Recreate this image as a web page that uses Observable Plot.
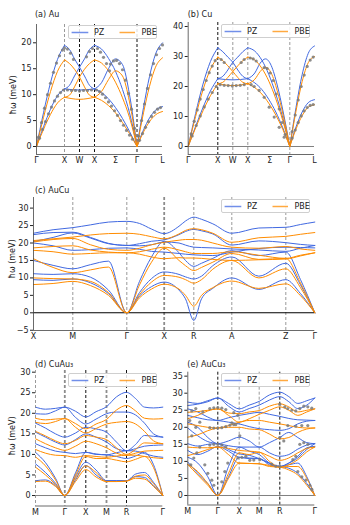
<!DOCTYPE html>
<html><head><meta charset="utf-8">
<script src="https://cdn.jsdelivr.net/npm/d3@7"></script>
<script src="https://cdn.jsdelivr.net/npm/@observablehq/plot@0.6"></script>
<style>
body{margin:0;background:#fff;font-family:"DejaVu Sans",sans-serif;}
#fig{position:relative;width:350px;height:525px;overflow:hidden;background:#fff;}
.ttl{position:absolute;font-size:8px;line-height:10px;color:#222;white-space:nowrap;}
.ylab{position:absolute;font-size:8px;line-height:10px;color:#222;white-space:nowrap;transform:translate(-50%,-50%) rotate(-90deg);}
.lg{position:absolute;box-sizing:border-box;border:0.8px solid #cfcfcf;border-radius:2px;background:rgba(255,255,255,0.85);width:89px;height:13.5px;}
</style></head><body><div id="fig"></div>
<script>
const PZ_COLOR = "#4169e1", PBE_COLOR = "#ff8c00";
const FONT = "DejaVu Sans, sans-serif";

// ---------- (a) Au ----------
const auTicks = [0, 28, 43, 58, 79, 100.5, 126];
const auLabels = ["Γ", "X", "W", "X", "Σ", "Γ", "L"];
const auPZ = [
  [[0,0],[7,6.5],[14,12.3],[21,16.8],[28,19.5]],
  [[0,0],[7,3.8],[14,7.2],[21,9.8],[28,11.1]],
  [[28,19.5],[33,18.7],[38,16.9],[43,15.3],[48,13.6],[53,11.8],[58,11.1]],
  [[28,11.1],[33,11.8],[38,13.6],[43,15.3],[48,16.9],[53,18.7],[58,19.5]],
  [[28,11.1],[43,10.9],[58,11.1]],
  [[58,19.5],[65,18.8],[72,17.0],[79,14.5],[86,11.0],[93,6.5],[100.5,0]],
  [[58,11.1],[65,12.3],[72,15.0],[79,16.9],[86,15.8],[93,10.0],[100.5,0]],
  [[58,11.1],[65,10.4],[72,9.2],[79,7.5],[86,5.4],[93,2.9],[100.5,0]],
  [[100.5,0],[107,7.5],[113,13.5],[119,17.8],[126,20.0]],
  [[100.5,0],[107,3.2],[113,5.5],[119,7.0],[126,7.7]]
];
const auPBE = [
  [[0,0],[7,5.6],[14,10.6],[21,14.5],[28,16.7]],
  [[0,0],[7,3.3],[14,6.2],[21,8.4],[28,9.5]],
  [[28,16.7],[33,16.0],[38,14.9],[43,13.4],[48,11.5],[53,9.9],[58,9.5]],
  [[28,9.5],[33,9.9],[38,11.5],[43,13.4],[48,14.9],[53,16.0],[58,16.7]],
  [[28,9.5],[43,9.1],[58,9.5]],
  [[58,16.7],[65,16.1],[72,14.6],[79,12.4],[86,9.4],[93,5.6],[100.5,0]],
  [[58,9.5],[65,10.6],[72,12.9],[79,14.6],[86,13.6],[93,8.6],[100.5,0]],
  [[58,9.5],[65,8.9],[72,7.9],[79,6.5],[86,4.6],[93,2.5],[100.5,0]],
  [[100.5,0],[107,6.5],[113,11.6],[119,15.3],[126,17.1]],
  [[100.5,0],[107,2.8],[113,4.8],[119,6.1],[126,6.75]]
];
const auExp = [
  [2,1.8],[5,4.6],[8,7.4],[11,10.0],[14,12.2],[17,14.3],[20,16.1],[23,17.5],[26,18.6],[28,19.0],
  [3,1.6],[6,3.3],[9,4.8],[12,6.3],[15,7.6],[18,8.8],[21,9.7],[24,10.4],[27,10.9],
  [31,10.9],[35,10.8],[39,10.8],[43,10.7],[47,10.8],[51,10.8],[55,10.9],
  [31,18.8],[34,18.0],[37,16.8],[50,17.3],[53,18.3],[56,18.9],
  [61,18.9],[64,18.2],[67,17.2],[70,16.0],[73,14.6],
  [74,15.9],[77,16.5],[80,16.6],[83,16.0],[86,14.8],[89,12.8],[92,10.2],[95,7.2],[98,3.5],
  [60,10.9],[63,10.6],[66,10.1],[69,9.4],[72,8.6],[75,7.8],[78,6.9],[81,6.0],[84,5.0],[87,4.1],[90,3.1],[93,2.2],[96,1.4],
  [102,2.0],[105,5.0],[108,8.2],[111,11.2],[114,13.8],[117,16.0],[120,17.7],[123,18.9],[126,19.6],
  [103,1.2],[106,2.5],[109,3.7],[112,4.8],[115,5.8],[118,6.6],[121,7.2],[124,7.5]
];

// ---------- (b) Cu ----------
const cuTicks = [0, 29.6, 44.6, 59.6, 81.6, 101.6, 126.3];
const cuLabels = ["Γ", "X", "W", "X", "Σ", "Γ", "L"];
const cuPZ = [
  [[0,0],[7.4,11.0],[14.8,20.8],[22.2,28.3],[29.6,32.9]],
  [[0,0],[7.4,6.7],[14.8,13.0],[22.2,18.5],[29.6,22.6]],
  [[29.6,32.9],[34.6,31.6],[39.6,29.8],[44.6,28.1],[49.6,25.5],[54.6,23.4],[59.6,22.6]],
  [[29.6,22.6],[34.6,23.4],[39.6,25.5],[44.6,28.1],[49.6,29.8],[54.6,31.6],[59.6,32.9]],
  [[29.6,22.6],[44.6,22.2],[59.6,22.6]],
  [[59.6,32.9],[66.6,31.8],[73.6,28.8],[80.6,24.0],[87.6,17.5],[94.6,9.5],[101.6,0]],
  [[59.6,22.6],[66.6,24.5],[72,27.8],[77.3,29.2],[83,27.0],[89,20.5],[95,11.5],[101.6,0]],
  [[59.6,22.6],[66.6,21.2],[73.6,19.0],[80.6,15.7],[87.6,11.5],[94.6,6.2],[101.6,0]],
  [[101.6,0],[107.8,13.0],[114,24.0],[120,31.0],[126.3,33.5]],
  [[101.6,0],[107.8,6.5],[114,11.5],[120,14.6],[126.3,15.6]]
];
const cuPBE = [
  [[0,0],[7.4,10.0],[14.8,18.9],[22.2,25.7],[29.6,29.8]],
  [[0,0],[7.4,6.2],[14.8,11.9],[22.2,16.9],[29.6,20.9]],
  [[29.6,29.8],[34.6,28.6],[39.6,26.9],[44.6,25.0],[49.6,23.0],[54.6,21.4],[59.6,20.9]],
  [[29.6,20.9],[34.6,21.4],[39.6,23.0],[44.6,25.0],[49.6,26.9],[54.6,28.6],[59.6,29.8]],
  [[29.6,20.9],[44.6,20.3],[59.6,20.9]],
  [[59.6,29.8],[66.6,28.8],[73.6,26.1],[80.6,21.8],[87.6,15.9],[94.6,8.6],[101.6,0]],
  [[59.6,20.9],[66.6,22.4],[72,25.0],[77.3,26.4],[83,24.5],[89,18.6],[95,10.4],[101.6,0]],
  [[59.6,20.9],[66.6,19.6],[73.6,17.5],[80.6,14.4],[87.6,10.5],[94.6,5.7],[101.6,0]],
  [[101.6,0],[107.8,11.8],[114,21.7],[120,27.9],[126.3,30.0]],
  [[101.6,0],[107.8,5.8],[114,10.3],[120,13.1],[126.3,13.9]]
];
const cuExp = [
  [3,4.2],[6,8.4],[9,12.2],[12,15.8],[15,19.0],[18,22.0],[21,24.6],[24,26.8],[27,28.6],
  [4,3.5],[8,7.0],[12,10.2],[16,13.2],[20,15.8],[24,18.0],[28,20.0],
  [32,20.6],[36,20.4],[40,20.3],[44,20.2],[48,20.3],[52,20.4],[56,20.6],
  [33,29.0],[36,28.0],[53,28.0],[56,29.0],
  [62,29.5],[65,29.2],[68,28.5],[76,26.3],[79,26.0],[82,24.5],[85,22.0],[88,17.5],[91,12.5],[94,8.0],[97,4.0],
  [63,20.6],[66,20.0],[71,18.7],[76,16.4],[81,13.1],[86,9.8],[91,6.4],[96,3.1],
  [104,5.0],[107,10.5],[110,15.5],[113,20.0],[116,23.8],[119,26.7],[122,28.8],[125,29.8],
  [104,2.8],[107,5.5],[110,8.0],[113,10.2],[116,11.9],[119,13.0],[122,13.7],[125,14.0]
];

// ---------- (c) AuCu ----------
const acTicks = [0, 39.3, 93.3, 130.7, 160.3, 198.3, 252.3, 281.3];
const acLabels = ["X", "M", "Γ", "X", "R", "A", "Z", "Γ"];
const acKnots = [0, 19.6, 39.3, 57, 75, 93.3, 106, 118, 130.7, 145.5, 152, 160.3, 168, 179.3, 198.3, 225.3, 252.3, 267, 281.3];
const acPZ = [
  [22.8, 23.8, 24.4, 25.2, 26.0, 26.2, 25.6, 24.0, 22.7, 24.8, 26.3, 27.4, 26.8, 25.5, 22.8, 24.3, 24.5, 25.3, 26.0],
  [22.4, 23.0, 23.1, 21.6, 19.9, 19.3, 19.8, 20.5, 20.9, 22.4, 23.3, 23.9, 23.5, 22.6, 19.4, 20.6, 20.1, 19.6, 19.3],
  [20.4, 21.6, 22.9, 21.4, 19.8, 19.3, 19.2, 19.5, 20.3, 20.0, 19.4, 18.8, 18.7, 18.6, 18.3, 18.0, 17.6, 18.5, 19.3],
  [20.0, 19.2, 17.9, 18.1, 18.5, 18.6, 18.2, 17.6, 17.4, 17.0, 16.8, 16.6, 16.5, 16.4, 17.4, 18.4, 18.8, 18.7, 18.6],
  [15.0, 13.6, 12.6, 13.8, 14.8, 0, 9.0, 16.0, 20.5, 17.2, 15.0, 13.3, 14.2, 15.6, 17.8, 16.4, 17.4, 9.5, 0],
  [11.2, 11.0, 11.2, 10.2, 6.5, 0, 5.8, 9.8, 11.7, 11.0, 10.3, 9.7, 10.5, 13.5, 16.0, 10.5, 14.2, 8.0, 0],
  [9.5, 9.3, 9.7, 8.6, 5.5, 0, 4.8, 7.5, 8.8, 6.5, 4.0, -2.2, 4.0, 7.0, 10.0, 6.7, 9.5, 5.5, 0]
];
const acPBE = [
  [20.7, 21.2, 21.7, 22.3, 22.7, 22.8, 22.5, 21.8, 21.2, 22.6, 23.6, 24.1, 23.8, 22.8, 20.2, 21.5, 21.9, 22.5, 23.0],
  [20.3, 21.0, 21.3, 19.5, 18.2, 17.9, 18.5, 19.5, 20.2, 20.8, 21.0, 21.0, 20.8, 20.0, 18.8, 18.5, 19.0, 18.3, 17.9],
  [18.6, 19.0, 19.2, 18.0, 17.4, 17.2, 17.5, 18.2, 18.8, 18.0, 17.5, 17.0, 17.0, 17.0, 17.5, 16.5, 15.6, 16.5, 17.2],
  [17.9, 17.5, 16.8, 17.0, 17.2, 17.2, 16.8, 16.0, 15.5, 15.8, 15.7, 15.7, 15.6, 15.3, 15.0, 15.2, 15.4, 16.3, 17.2],
  [15.5, 13.0, 11.5, 12.3, 13.1, 0, 8.0, 14.5, 18.5, 15.0, 13.5, 12.1, 13.0, 14.5, 17.0, 15.3, 15.6, 8.5, 0],
  [10.0, 9.8, 9.7, 9.0, 5.8, 0, 5.2, 8.8, 10.7, 10.2, 9.5, 8.5, 9.5, 12.5, 15.0, 10.0, 12.6, 7.2, 0],
  [8.1, 8.4, 9.0, 7.8, 5.0, 0, 4.3, 6.8, 8.2, 6.8, 5.0, 1.9, 5.0, 7.2, 9.1, 7.0, 8.3, 4.9, 0]
];

// ---------- (d) CuAu3 ----------
const d3Ticks = [0, 29.3, 50.3, 71, 91, 127.3];
const d3Labels = ["M", "Γ", "X", "M", "R", "Γ"];
const d3Knots = [0, 10, 20, 29.3, 40, 50.3, 60.6, 71, 81, 91, 100, 109, 118, 127.3];
const d3PZ = [
  [21.5, 21.0, 21.2, 21.5, 20.5, 19.1, 20.4, 21.6, 24.0, 25.1, 23.6, 21.5, 21.3, 21.5],
  [19.9, 19.8, 20.6, 21.5, 19.0, 17.4, 18.6, 19.9, 20.3, 20.3, 19.6, 17.6, 15.0, 14.2],
  [17.6, 16.4, 15.0, 14.2, 15.2, 16.6, 16.2, 15.4, 13.0, 10.9, 12.4, 14.6, 14.4, 14.2],
  [15.4, 14.2, 13.0, 12.3, 13.6, 15.0, 14.2, 13.0, 11.4, 10.9, 11.4, 12.0, 12.2, 12.3],
  [12.6, 11.6, 10.8, 10.5, 10.2, 10.5, 10.1, 9.9, 10.4, 10.9, 10.8, 10.2, 9.6, 9.3],
  [10.5, 8.0, 4.2, 0, 4.6, 8.1, 6.2, 3.6, 3.6, 3.6, 5.2, 5.6, 3.2, 0],
  [7.7, 5.6, 3.0, 0, 3.8, 7.3, 5.0, 3.6, 3.6, 3.6, 4.6, 4.4, 2.4, 0],
  [3.6, 3.8, 2.4, 0, 5.5, 10.5, 10.0, 9.9, 9.5, 9.0, 9.6, 10.5, 7.5, 0]
];
const d3PBE = [
  [18.8, 18.4, 18.6, 18.7, 17.5, 16.2, 17.4, 18.5, 20.8, 21.9, 20.6, 18.8, 18.6, 18.7],
  [17.8, 17.5, 18.0, 18.7, 16.6, 15.2, 16.3, 17.4, 17.8, 18.0, 17.4, 15.6, 13.3, 12.6],
  [15.6, 14.5, 13.3, 12.6, 13.4, 14.6, 14.2, 13.6, 11.6, 10.0, 11.2, 12.8, 12.7, 12.6],
  [13.8, 12.6, 11.6, 11.0, 12.0, 13.2, 12.6, 11.6, 10.3, 9.8, 10.3, 10.8, 10.9, 11.0],
  [11.2, 10.3, 9.8, 9.7, 9.3, 9.7, 9.5, 9.3, 9.6, 9.8, 9.8, 9.5, 9.2, 9.0],
  [9.4, 7.2, 3.8, 0, 4.2, 7.2, 5.6, 3.4, 3.4, 3.5, 4.7, 5.0, 2.9, 0],
  [6.9, 5.0, 2.7, 0, 3.4, 6.3, 4.5, 3.4, 3.4, 3.5, 4.2, 4.0, 2.2, 0],
  [3.4, 3.5, 2.2, 0, 5.0, 9.5, 9.0, 9.0, 8.6, 8.2, 8.8, 9.5, 6.8, 0]
];

// ---------- (e) AuCu3 ----------
const e3Ticks = [0, 30, 51.4, 71.4, 92, 127];
const e3Labels = ["M", "Γ", "X", "M", "R", "Γ"];
const e3Knots = [0, 10, 20, 30, 40.7, 51.4, 61.4, 71.4, 81.7, 92, 101, 110, 119, 127];
const e3PZ = [
  [27.4, 27.0, 27.8, 28.6, 27.0, 25.4, 26.5, 27.6, 29.5, 30.3, 29.0, 27.0, 27.8, 28.6],
  [26.4, 26.8, 27.5, 28.6, 26.2, 24.5, 25.5, 26.5, 28.0, 29.0, 27.5, 25.5, 26.5, 28.6],
  [25.4, 24.5, 23.0, 22.0, 22.8, 23.5, 24.0, 24.4, 23.8, 23.2, 22.6, 22.2, 22.1, 22.0],
  [23.5, 22.8, 22.2, 22.0, 21.5, 21.0, 20.2, 19.6, 19.3, 19.1, 19.6, 21.0, 21.8, 22.0],
  [21.5, 20.0, 17.0, 15.2, 16.0, 17.1, 16.0, 14.2, 15.5, 17.0, 18.5, 17.0, 15.5, 15.2],
  [19.8, 17.5, 15.8, 15.2, 14.6, 14.2, 14.2, 14.2, 12.5, 11.5, 12.0, 13.6, 14.8, 15.2],
  [15.2, 14.5, 15.0, 15.2, 13.5, 12.2, 11.8, 10.8, 9.5, 8.5, 9.5, 11.0, 13.5, 15.2],
  [13.2, 12.0, 13.0, 14.4, 13.0, 11.2, 11.0, 10.8, 9.4, 8.5, 9.5, 11.5, 14.0, 14.4],
  [11.2, 9.5, 5.5, 0, 8.5, 14.2, 13.0, 12.0, 9.5, 8.5, 9.0, 9.5, 5.5, 0],
  [9.8, 6.5, 3.5, 0, 5.5, 11.2, 10.8, 10.8, 9.0, 8.5, 8.0, 6.5, 3.5, 0]
];
const e3PBE = [
  [24.4, 24.6, 25.0, 25.4, 24.2, 24.0, 24.5, 24.9, 26.2, 26.9, 26.0, 24.5, 25.0, 25.4],
  [22.5, 23.5, 24.8, 25.4, 23.5, 21.5, 22.5, 23.8, 25.0, 26.0, 25.0, 23.5, 24.5, 25.4],
  [21.0, 20.5, 20.0, 19.8, 20.5, 21.5, 22.0, 22.0, 21.5, 21.0, 20.5, 20.0, 19.8, 19.8],
  [17.1, 17.8, 19.0, 19.8, 20.0, 20.0, 19.5, 19.3, 18.0, 16.6, 17.0, 18.5, 19.5, 19.8],
  [14.2, 14.0, 14.0, 14.2, 13.8, 13.2, 13.0, 12.7, 11.5, 10.3, 11.0, 12.5, 13.8, 14.2],
  [11.7, 12.5, 13.5, 14.2, 12.0, 9.5, 9.4, 9.3, 8.8, 8.3, 9.0, 10.5, 12.8, 14.2],
  [9.1, 7.0, 3.5, 0, 6.5, 12.5, 12.0, 12.7, 10.0, 8.3, 8.5, 8.5, 5.0, 0],
  [9.1, 6.0, 3.0, 0, 5.0, 9.5, 9.4, 9.3, 8.5, 8.3, 7.5, 6.0, 3.0, 0]
];
const e3Exp = [
  [22,25.5],[26,25.7],[30,25.8],[34,25.6],[38,25.2],
  [22,19.9],[26,19.8],[30,19.8],[34,19.9],[38,20.2],[42,20.6],[46,20.8],
  [22,14.8],[26,15.0],[30,15.0],[34,14.8],[38,14.3],
  [24,4.5],[26,3.0],[34,4.0],[37,7.0],[40,9.5],[20,6.5],[17,9.0],
  [2,22.0],[4,24.8],[8,25.5],[3,9.0],[6,11.0],[9,12.5],[12,14.2],[4,17.5],[8,20.0],[12,21.5],[15,24.5],
  [44,21.3],[48,20.8],[52,17.5],[50,11.0],[54,11.2],[58,11.5],[46,24.3],[50,23.5],
  [62,10.3],[66,10.4],[72,10.5],[84,9.2],[88,8.6],[92,8.6],[92,17.0],[96,16.0],[92,26.7],[97,26.0],
  [100,25.5],[104,25.0],[108,24.8],[112,25.5],[116,26.2],[120,26.0],[124,25.6],
  [100,20.5],[108,20.3],[114,20.5],[120,20.5],
  [105,10.5],[108,11.5],[112,15.0],[116,15.5],[120,15.0],
  [110,7.0],[114,5.5],[118,4.5],[122,3.0],[124,1.8]
];

// ---------- helpers ----------
const fromPairs = (bands, s) => bands.flatMap((b, i) => b.map(([x, y]) => ({x, y, band: s + i})));
const fromGrid = (knots, bands, s) => bands.flatMap((b, i) => b.map((y, j) => ({x: knots[j], y, band: s + i})));
const fig = document.getElementById("fig");

function addDiv(cls, html, left, top) {
  const d = document.createElement("div");
  d.className = cls; d.innerHTML = html;
  d.style.left = left + "px"; d.style.top = top + "px";
  fig.appendChild(d); return d;
}
function legend(left, top) {
  const html = `<svg width="89" height="13" style="position:absolute;left:0;top:0;font-family:${FONT};font-size:8px">
    <line x1="2.6" x2="19.3" y1="6.5" y2="6.5" stroke="${PZ_COLOR}" stroke-opacity="0.75" stroke-width="1.5"/>
    <text x="25" y="9.4" fill="#222">PZ</text>
    <line x1="50.5" x2="66" y1="6.5" y2="6.5" stroke="${PBE_COLOR}" stroke-opacity="0.75" stroke-width="1.5"/>
    <text x="72.5" y="9.4" fill="#222">PBE</text></svg>`;
  addDiv("lg", html, left, top);
}

function panel(c) {
  const lab = new Map(c.ticks.map((t, i) => [t, c.labels[i]]));
  const marks = [
    Plot.ruleX(c.vGray || [], {stroke: "#808080", strokeWidth: 0.8, strokeDasharray: "3,2"}),
    Plot.ruleX(c.vThick || [], {stroke: "#8c8c8c", strokeWidth: 1.8, strokeDasharray: "3,2"}),
    Plot.ruleX(c.vBlack || [], {stroke: "#111", strokeWidth: 1, strokeDasharray: "3,2"}),
    Plot.ruleY([0], {stroke: c.zeroColor || "#808080", strokeWidth: c.zeroWidth || 1}),
    Plot.line(c.pz, {x: "x", y: "y", z: "band", stroke: PZ_COLOR, strokeWidth: 1, curve: "monotone-x"}),
    Plot.line(c.pbe, {x: "x", y: "y", z: "band", stroke: PBE_COLOR, strokeWidth: 1, curve: "monotone-x"}),
    Plot.dot(c.exp || [], {x: d => d[0], y: d => d[1], r: 1.6, fill: "#7a7a7a", fillOpacity: 0.85}),
    Plot.ruleY([c.yMin], {stroke: "#444", strokeWidth: 0.8}),
    c.leftDashed
      ? Plot.ruleX([0], {stroke: "#808080", strokeWidth: 0.8, strokeDasharray: "3,2"})
      : Plot.ruleX([0], {stroke: "#444", strokeWidth: 0.8}),
    Plot.axisY(c.yTicks, {label: null, tickSize: 3, tickPadding: 2, fontSize: 8, tickFormat: d => d < 0 ? "\u2212" + (-d) : String(d)}),
    Plot.axisX(c.ticks, {label: null, tickSize: 0, tickPadding: 3, fontSize: 8, tickFormat: d => lab.get(d)})
  ];
  const svg = Plot.plot({
    width: c.width, height: c.height,
    marginLeft: c.mL, marginRight: c.mR, marginTop: c.mT, marginBottom: c.mB,
    x: {domain: [0, c.xMax], axis: null, label: null},
    y: {domain: [c.yMin, c.yMax], axis: null, label: null},
    style: {fontFamily: FONT, fontSize: "8px", background: "transparent", overflow: "visible", color: "#222"},
    marks
  });
  svg.style.position = "absolute";
  svg.style.left = c.left + "px";
  svg.style.top = c.top + "px";
  fig.appendChild(svg);
}

// (a)
panel({left: 0, top: 0, width: 175, height: 170, mL: 36, mR: 13, mT: 24, mB: 16,
  xMax: 126, yMin: -1.54, yMax: 23.53, yTicks: [0, 5, 10, 15, 20],
  ticks: auTicks, labels: auLabels, vGray: [28], vBlack: [43, 58, 100.5],
  pz: fromPairs(auPZ, "pz"), pbe: fromPairs(auPBE, "pbe"), exp: auExp});
// (b)
panel({left: 160, top: 0, width: 190, height: 170, mL: 27.7, mR: 36, mT: 22, mB: 16,
  xMax: 126.3, yMin: -2.67, yMax: 41.33, yTicks: [0, 10, 20, 30, 40],
  ticks: cuTicks, labels: cuLabels, vBlack: [29.6], vGray: [44.6, 59.6, 101.6],
  pz: fromPairs(cuPZ, "pz"), pbe: fromPairs(cuPBE, "pbe"), exp: cuExp});
// (c)
panel({left: 0, top: 175, width: 350, height: 170, mL: 33, mR: 35.7, mT: 22, mB: 15,
  xMax: 281.3, yMin: -5.07, yMax: 33.04, yTicks: [-5, 0, 5, 10, 15, 20, 25, 30],
  ticks: acTicks, labels: acLabels, vGray: [39.3, 93.3, 160.3, 198.3, 252.3], vThick: [130.7],
  zeroColor: "#000", zeroWidth: 1.1,
  pz: fromGrid(acKnots, acPZ, "pz"), pbe: fromGrid(acKnots, acPBE, "pbe")});
// (d)
panel({left: 0, top: 350, width: 175, height: 175, mL: 35, mR: 12.7, mT: 20, mB: 19.5,
  xMax: 127.3, yMin: -2.55, yMax: 30.41, yTicks: [0, 5, 10, 15, 20, 25, 30],
  ticks: d3Ticks, labels: d3Labels, vThick: [29.3, 71], vBlack: [50.3, 91], leftDashed: true,
  pz: fromGrid(d3Knots, d3PZ, "pz"), pbe: fromGrid(d3Knots, d3PBE, "pbe")});
// (e)
panel({left: 160, top: 350, width: 190, height: 175, mL: 27.3, mR: 35.7, mT: 21.7, mB: 20.5,
  xMax: 127, yMin: -2.79, yMax: 36.16, yTicks: [0, 5, 10, 15, 20, 25, 30, 35],
  ticks: e3Ticks, labels: e3Labels, vBlack: [30, 92], vGray: [51.4, 71.4],
  pz: fromGrid(e3Knots, e3PZ, "pz"), pbe: fromGrid(e3Knots, e3PBE, "pbe"), exp: e3Exp});

// titles, y labels, legends
addDiv("ttl", "(a) Au", 35, 10);
addDiv("ttl", "(b) Cu", 187.7, 10);
addDiv("ttl", "(c) AuCu", 35, 185.7);
addDiv("ttl", "(d) CuAu\u2083", 35, 360);
addDiv("ttl", "(e) AuCu\u2083", 187.3, 360);
addDiv("ylab", "ħω (meV)", 14, 95);
addDiv("ylab", "ħω (meV)", 13, 259);
addDiv("ylab", "ħω (meV)", 13, 436);
legend(68, 25);
legend(220.7, 24.3);
legend(220.7, 199);
legend(68.3, 373.3);
legend(220.7, 373.3);
</script></body></html>
